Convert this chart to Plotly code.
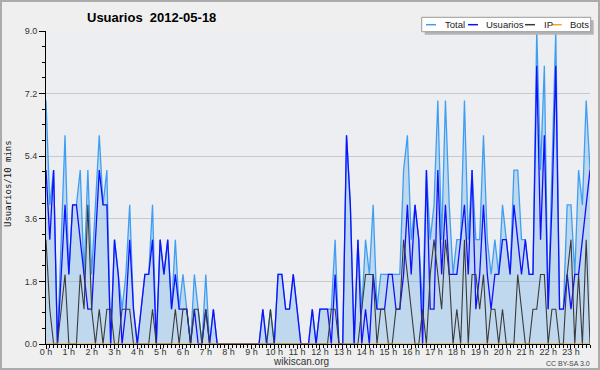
import plotly.graph_objects as go

# ---- data (10-minute slots, 2012-05-18) ----
hours = list(range(24))
hour_labels = [f"{h} h" for h in hours]
slots = [h + m / 60 for h in range(24) for m in (0, 10, 20, 30, 40, 50)]

total = [7, 4, 5, 0, 3, 6, 2, 4, 4, 5, 2, 5, 2, 4, 6, 4, 5, 0, 3, 2, 1, 2, 4, 1,
         0, 1, 2, 2, 4, 0, 3, 2, 3, 1, 3, 1, 2, 1, 0, 2, 1, 0, 2, 0, 1, 0, 0, 0,
         0, 0, 0, 0, 0, 0, 0, 0, 0, 1, 0, 1, 0, 2, 2, 1, 1, 2, 1, 0, 0, 0, 1, 0,
         1, 1, 1, 1, 3, 0, 0, 6, 4, 0, 3, 1, 3, 2, 4, 1, 2, 2, 2, 2, 2, 2, 5, 6,
         3, 4, 3, 1, 5, 3, 4, 7, 3, 7, 4, 2, 3, 3, 7, 3, 5, 3, 3, 6, 3, 2, 3, 2,
         4, 3, 2, 5, 5, 3, 3, 2, 2, 9, 5, 8, 1, 5, 9, 1, 1, 4, 4, 2, 5, 4, 7, 5]
usuarios = [5, 3, 5, 0, 2, 4, 2, 4, 4, 3, 2, 1, 1, 3, 5, 4, 4, 0, 3, 2, 0, 1, 3, 1,
            0, 1, 2, 2, 3, 0, 3, 2, 3, 1, 2, 1, 1, 1, 0, 1, 0, 0, 1, 0, 1, 0, 0, 0,
            0, 0, 0, 0, 0, 0, 0, 0, 0, 1, 0, 0, 0, 2, 2, 1, 1, 2, 1, 0, 0, 0, 1, 0,
            1, 1, 1, 0, 2, 0, 0, 6, 4, 0, 3, 0, 1, 0, 2, 1, 1, 1, 2, 2, 1, 1, 2, 4,
            2, 4, 3, 0, 5, 1, 1, 5, 2, 4, 2, 2, 2, 3, 4, 2, 5, 1, 2, 4, 2, 1, 2, 2,
            3, 3, 2, 4, 3, 2, 3, 2, 2, 8, 3, 6, 1, 4, 8, 1, 1, 2, 1, 2, 2, 3, 4, 5]
ip = [3, 1, 0, 0, 1, 2, 0, 0, 0, 2, 1, 4, 1, 0, 1, 0, 1, 1, 0, 0, 1, 1, 1, 0,
      0, 0, 0, 0, 1, 0, 0, 0, 0, 0, 1, 0, 1, 1, 0, 1, 1, 0, 1, 0, 0, 0, 0, 0,
      0, 0, 0, 0, 0, 0, 0, 0, 0, 0, 0, 1, 0, 0, 0, 0, 0, 0, 0, 0, 0, 0, 0, 0,
      0, 0, 0, 1, 1, 0, 0, 0, 0, 0, 0, 1, 2, 2, 2, 0, 1, 1, 0, 0, 1, 1, 3, 2,
      1, 0, 0, 1, 0, 2, 3, 2, 1, 3, 2, 0, 1, 0, 3, 0, 2, 2, 1, 2, 0, 1, 1, 0,
      1, 0, 0, 0, 2, 1, 0, 0, 1, 1, 2, 2, 0, 1, 1, 0, 0, 2, 3, 0, 2, 0, 3, 0]
bots = [0, 0, 0, 0, 0, 0, 0, 0, 0, 0, 0, 0, 0, 0, 0, 0, 0, 0, 0, 0, 0, 0, 0, 0,
        0, 0, 0, 0, 0, 0, 0, 0, 0, 0, 0, 0, 0, 0, 0, 0, 0, 0, 0, 0, 0, 0, 0, 0,
        0, 0, 0, 0, 0, 0, 0, 0, 0, 0, 0, 0, 0, 0, 0, 0, 0, 0, 0, 0, 0, 0, 0, 0,
        0, 0, 0, 0, 0, 0, 0, 0, 0, 0, 0, 0, 0, 0, 0, 0, 0, 0, 0, 0, 0, 0, 0, 0,
        0, 0, 0, 0, 0, 0, 0, 0, 0, 0, 0, 0, 0, 0, 0, 0, 0, 0, 0, 0, 0, 0, 0, 0,
        0, 0, 0, 0, 0, 0, 0, 0, 0, 0, 0, 0, 0, 0, 0, 0, 0, 0, 0, 0, 0, 0, 0, 0]
y_ticks = [0, 1.8, 3.6, 5.4, 7.2, 9.0]
y_tick_labels = ["0.0", "1.8", "3.6", "5.4", "7.2", "9.0"]
series_names = ["Total", "Usuarios", "IP", "Bots"]

# ---- styles ----
C_TOTAL = "#3f9ef2"
C_USU = "#1010ff"
C_IP = "#3a3a3a"
C_BOTS = "#ffa31a"
W, H = 600, 370
L, R, T, B = 46, 10, 31, 26
PW, PH = W - L - R, H - T - B


def px(x):
    return (x - L) / PW


def py(y):
    return (H - B - y) / PH


fig = go.Figure()
fig.add_trace(go.Scatter(x=slots, y=total, mode="lines", name=series_names[0],
                         line=dict(color=C_TOTAL, width=1.3),
                         fill="tozeroy", fillcolor="rgba(100,170,230,0.32)"))
fig.add_trace(go.Scatter(x=slots, y=usuarios, mode="lines", name=series_names[1],
                         line=dict(color=C_USU, width=1.3)))
fig.add_trace(go.Scatter(x=slots, y=ip, mode="lines", name=series_names[2],
                         line=dict(color=C_IP, width=1.1)))
fig.add_trace(go.Scatter(x=slots, y=bots, mode="lines", name=series_names[3],
                         line=dict(color=C_BOTS, width=1.1)))

tickfont = dict(family="Liberation Sans", size=9, color="#333333")
fig.update_layout(
    width=W, height=H,
    margin=dict(l=L, r=R, t=T, b=B),
    paper_bgcolor="#efefef",
    plot_bgcolor="#eceef1",
    showlegend=False,
    xaxis=dict(range=[slots[0], slots[-1]], tickvals=hours, ticktext=hour_labels,
               ticks="outside", ticklen=4, tickcolor="black", tickwidth=1,
               showline=True, linecolor="black", linewidth=1,
               showgrid=False, zeroline=False, tickfont=tickfont,
               ticklabelstandoff=-5,
               minor=dict(dtick=1 / 6, tick0=0, ticks="outside", ticklen=3,
                          tickcolor="black", showgrid=False)),
    yaxis=dict(range=[0, 9], tickvals=y_ticks, ticktext=y_tick_labels,
               ticks="outside", ticklen=6, tickcolor="black",
               showline=True, linecolor="black", linewidth=1,
               showgrid=True, gridcolor="#c9c9c9", gridwidth=1,
               zeroline=False, tickfont=tickfont,
               minor=dict(dtick=0.45, ticks="outside", ticklen=3,
                          tickcolor="black", showgrid=False)),
)

shapes = []
annotations = []

# legend box (shadow + box)
shapes.append(dict(type="rect", xref="paper", yref="paper",
                   x0=px(424.7), x1=px(593.7), y0=py(34.7), y1=py(20.3),
                   fillcolor="#b4b4b4", line=dict(width=0), layer="above"))
shapes.append(dict(type="rect", xref="paper", yref="paper",
                   x0=px(421.7), x1=px(590.7), y0=py(31.7), y1=py(17.3),
                   fillcolor="#ffffff", line=dict(color="#9a9a9a", width=1),
                   layer="above"))
leg_items = [(426, 442.7, C_TOTAL), (468, 484, C_USU), (525, 541.7, C_IP),
             (551.7, 568, C_BOTS)]
for (lx, tx, col), name in zip(leg_items, series_names):
    shapes.append(dict(type="line", xref="paper", yref="paper",
                       x0=px(lx), x1=px(lx + 10), y0=py(24.7), y1=py(24.7),
                       line=dict(color=col, width=1.5), layer="above"))
    annotations.append(dict(text=name, xref="paper", yref="paper",
                            x=px(tx), y=py(24.7), xanchor="left", yanchor="middle",
                            showarrow=False,
                            font=dict(family="Liberation Sans", size=9.5, color="#222222")))

# outer border
shapes.append(dict(type="rect", xref="paper", yref="paper",
                   x0=px(1), x1=px(599), y0=py(369), y1=py(1),
                   line=dict(color="#ababab", width=2), fillcolor="rgba(0,0,0,0)",
                   layer="above"))

annotations.append(dict(text="<b>Usuarios  2012-05-18</b>", xref="paper", yref="paper",
                        x=px(151), y=py(17), xanchor="center", yanchor="middle",
                        showarrow=False,
                        font=dict(family="Liberation Sans", size=13, color="#000000")))
annotations.append(dict(text="Usuarios/10 mins", xref="paper", yref="paper",
                        x=px(8), y=py(184), xanchor="center", yanchor="middle",
                        textangle=-90, showarrow=False,
                        font=dict(family="DejaVu Sans Mono", size=9, color="#111111")))
annotations.append(dict(text="wikiscan.org", xref="paper", yref="paper",
                        x=px(300.5), y=py(361.5), xanchor="center", yanchor="middle",
                        showarrow=False,
                        font=dict(family="Liberation Sans", size=10, color="#333333")))
annotations.append(dict(text="CC BY-SA 3.0", xref="paper", yref="paper",
                        x=px(568), y=py(363), xanchor="center", yanchor="middle",
                        showarrow=False,
                        font=dict(family="Liberation Sans", size=7, color="#444444")))

fig.update_layout(shapes=shapes, annotations=annotations)
fig.write_html("out.html",
               config={"displayModeBar": False, "staticPlot": True},
               post_script="document.body.style.margin='0';document.body.style.overflow='hidden';")
